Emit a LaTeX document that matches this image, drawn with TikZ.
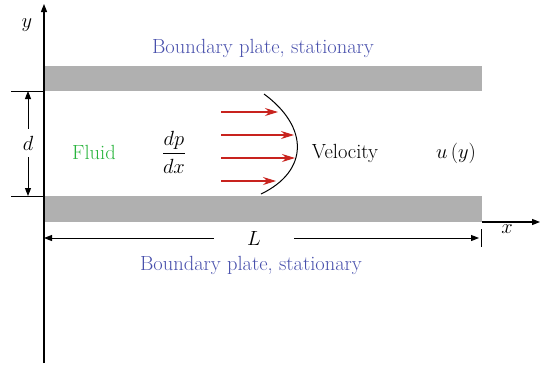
\RequirePackage{fix-cm}
\documentclass[tikz,border=0pt]{standalone}
\usepackage{amsmath}
\usepackage{xcolor}
\usepackage{tikz}
\usetikzlibrary{arrows.meta,calc}
\definecolor{ColPlate}{RGB}{176,176,176}
\definecolor{ColLabel}{RGB}{72,80,172}
\definecolor{ColFluid}{RGB}{40,180,60}
\definecolor{ColFlow}{RGB}{200,35,30}

\begin{document}
\begin{tikzpicture}[
  x=1pt, y=-1pt,
  >={Triangle[length=8pt,width=6pt]},
  line join=miter,
  every node/.style={font=\fontsize{20.5}{24}\selectfont, inner sep=0pt}
]
  \useasboundingbox (0,0) rectangle (541,368);

  \coordinate (yfoot) at ( 44,363);
  \coordinate (yhead) at ( 44,  4);
  \coordinate (xfoot) at (482,222);
  \coordinate (xhead) at (540,222);

  % Plates
  \fill[ColPlate] (44, 66) rectangle (482, 91);
  \fill[ColPlate] (44,196) rectangle (482,222);

  % Axes
  \draw[->, line width=1.1pt] (yfoot) -- (yhead);
  \draw[->, line width=1.1pt] (xfoot) -- (xhead);
  \node (ylab) at ( 27, 25) {$y$};
  \node (xlab) at (507,229) {$x$};

  % Gap width d
  \coordinate (dtop) at (28, 91);
  \coordinate (dbot) at (28,196);
  \draw[line width=1pt] (11, 91) -- (44, 91);
  \draw[line width=1pt] (11,196) -- (44,196);
  \node[inner ysep=7pt] (dlab) at (28,143) {$d$};
  \draw[->, line width=1pt] (dlab) -- (dtop);
  \draw[->, line width=1pt] (dlab) -- (dbot);

  % Plate length L
  \coordinate (Lleft)  at ( 44,238);
  \coordinate (Lright) at (479,238);
  \draw[line width=1pt] (481,229) -- (481,247);
  \node[inner xsep=33pt] (Llab) at (254,238) {$L$};
  \draw[->, line width=1pt] (Llab) -- (Lleft);
  \draw[->, line width=1pt] (Llab) -- (Lright);

  % Velocity profile
  \draw[line width=1pt] (264,94) .. controls (309,127) and (309,171) .. (261,194);
  \foreach \yy/\xx in {112/278, 135/294, 158/295, 181/276}{
    \draw[->, >={Stealth[length=13pt,width=8pt]}, line width=1.1pt, ColFlow]
      (221,\yy) -- (\xx,\yy);
  }

  % Labels
  \node[ColLabel] (topplate) at (263, 48) {Boundary plate, stationary};
  \node[ColLabel] (botplate) at (251,265) {Boundary plate, stationary};
  \node[ColFluid] (fluid)    at ( 94,152) {Fluid};
  \node           (grad)     at (174,152) {$\dfrac{dp}{dx}$};
  \node           (vel)      at (345,153) {Velocity};
  \node           (uy)       at (456,153) {$u\,(y)$};
\end{tikzpicture}
\end{document}
